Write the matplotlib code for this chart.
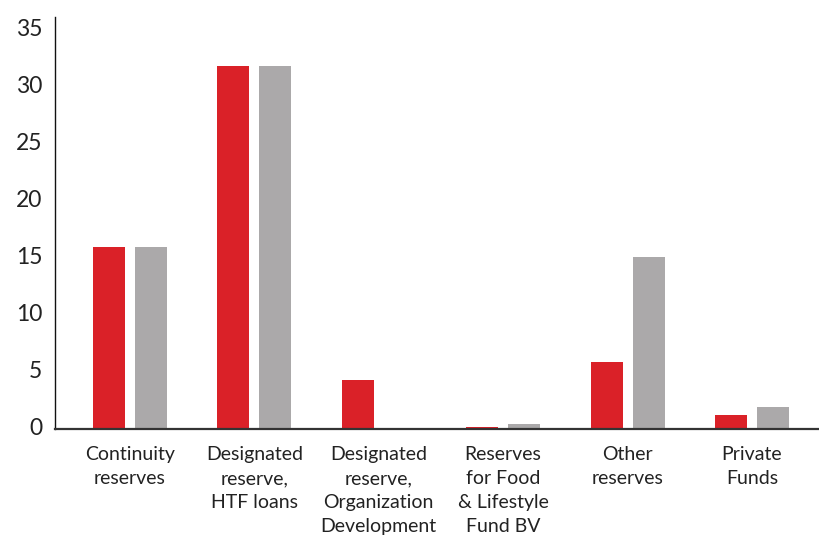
import numpy as np
import matplotlib.pyplot as plt
from matplotlib.transforms import ScaledTranslation

# reserves by category, two years side by side
categories = ['Continuity\nreserves',
              'Designated\nreserve,\nHTF loans',
              'Designated\nreserve,\nOrganization\nDevelopment',
              'Reserves\nfor Food\n& Lifestyle\nFund BV',
              'Other\nreserves',
              'Private\nFunds']
current = [16.0, 31.9, 4.3, 0.2, 5.9, 1.3]
previous = [16.0, 31.9, 0.0, 0.5, 15.1, 2.0]

red = '#DA2128'
grey = '#ABA9AA'

plt.rcParams['font.family'] = ['Lato', 'DejaVu Sans']

fig = plt.figure(figsize=(8.2, 5.38), dpi=100)
ax = fig.add_axes([0.0671, 0.2017, 0.9329, 0.7667])

x = np.arange(len(categories))
w = 0.257
off = 0.169
ax.bar(x - off, current, width=w, color=red, zorder=2)
ax.bar(x + off, previous, width=w, color=grey, zorder=2)

ax.set_xlim(-0.603, len(categories) - 1 + 0.547)
ax.set_ylim(0, 36.2)
ax.set_yticks(np.arange(0, 36, 5))
ax.set_xticks(x)
ax.set_xticklabels(categories, fontsize=14, color='#222222',
                   linespacing=1.5)
ax.tick_params(axis='y', length=0, pad=9, labelsize=16.5, labelcolor='#222222')
ax.tick_params(axis='x', length=0, pad=12)

# nudge the y labels up a little
lift = ScaledTranslation(0, 3 / 100, fig.dpi_scale_trans)
for lab in ax.get_yticklabels():
    lab.set_transform(lab.get_transform() + lift)

for s in ['top', 'right']:
    ax.spines[s].set_visible(False)
ax.spines['left'].set_color('#111111')
ax.spines['left'].set_linewidth(1.0)
ax.spines['bottom'].set_color('#333333')
ax.spines['bottom'].set_linewidth(1.6)

fig.savefig('out.png', dpi=100)
